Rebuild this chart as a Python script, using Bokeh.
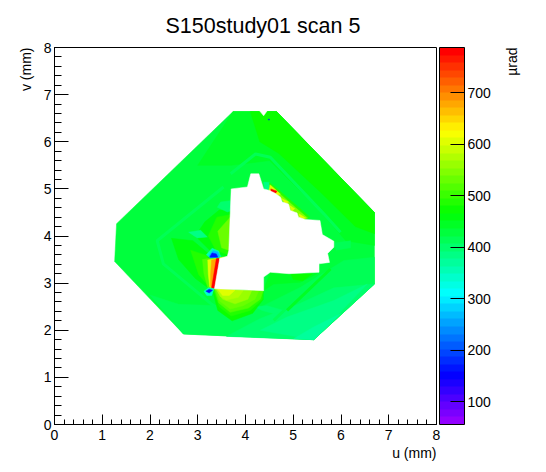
import colorsys
from math import pi
from bokeh.embed import file_html
from bokeh.resources import INLINE
from bokeh.plotting import figure
from bokeh.models import (ColorBar, ColumnDataSource, FixedTicker, Label,
                          LinearColorMapper, SingleIntervalTicker, Title)

TITLE = "S150study01 scan 5"
X_LABEL = "u (mm)"
Y_LABEL = "v (mm)"
Z_LABEL = "\u00b5rad"
Z_LOW, Z_HIGH = 56, 788
Z_TICKS = [100, 200, 300, 400, 500, 600, 700]
N_BANDS = 50

palette = []
for i in range(N_BANDS):
    hue = (280 - (i + 1) * 280 / N_BANDS) / 360
    r, g, b = colorsys.hls_to_rgb(hue, 0.5, 1.0)
    palette.append("#%02x%02x%02x" % (round(r * 255), round(g * 255), round(b * 255)))

# Measured region (outer edge)
outer_u = [3.74, 1.30, 1.26, 2.70, 5.43, 6.70, 6.70, 4.65]
outer_v = [6.64, 4.26, 3.46, 1.92, 1.80, 2.98, 4.50, 6.64]
outer_z = 430

# Broad background regions, painted first: (z, u's, v's)
background = [
    (450, [3.74, 4.65, 6.70, 6.70, 6.10, 5.50, 4.50, 3.70, 3.00],
          [6.64, 6.64, 4.50, 3.80, 3.90, 4.60, 5.60, 5.50, 5.50]),
    (470, [4.10, 4.65, 6.70, 6.70, 6.30, 5.60, 4.70, 4.30],
          [6.64, 6.64, 4.50, 4.05, 4.20, 4.90, 5.75, 6.00]),
    (418, [2.00, 2.60, 4.31, 5.15, 6.06, 6.70, 6.70, 5.43, 2.70],
          [2.75, 2.55, 2.49, 2.91, 3.48, 3.55, 2.98, 1.80, 1.92]),
    (405, [3.60, 4.31, 5.10, 5.85, 6.70, 5.43, 4.10],
          [1.87, 2.25, 2.55, 2.90, 2.98, 1.80, 1.85]),
    (390, [4.31, 4.87, 5.85, 6.55, 5.43],
          [2.00, 2.28, 2.63, 2.98, 1.80]),
    (370, [5.01, 5.43, 5.99, 5.43],
          [1.82, 2.07, 2.35, 1.80]),
    (440, [4.52, 5.50, 5.15, 4.59, 4.37],
          [3.23, 3.20, 3.02, 2.98, 2.84]),
    (475, [4.95, 5.40, 5.20, 5.00],
          [3.19, 3.20, 3.05, 3.08]),
    (395, [4.20, 4.45, 4.80, 4.60, 4.35],
          [2.50, 2.52, 2.42, 2.35, 2.42]),
    (410, [5.85, 6.20, 6.20, 5.90],
          [3.85, 3.90, 3.75, 3.70]),
]

# Thin stripes that run parallel to the outer edge
stripes = [
    (412, [3.69, 4.21, 4.52, 5.64, 5.99], [5.32, 5.74, 5.67, 4.47, 4.08]),
    (420, [3.54, 2.15, 2.28, 3.27, 3.80], [5.04, 3.90, 3.41, 2.57, 2.20]),
    (408, [5.57, 4.59], [3.16, 2.21]),
    (440, [5.78, 4.87], [3.30, 2.42]),
]

# Local features next to the hole, painted over the stripes
features = [
    (470, [3.30, 4.37, 4.37, 4.15, 3.72, 3.42],
          [2.88, 2.84, 2.65, 2.36, 2.20, 2.42]),
    (495, [3.33, 4.37, 4.35, 4.10, 3.70, 3.45],
          [2.87, 2.84, 2.65, 2.42, 2.30, 2.50]),
    (515, [3.35, 4.37, 4.31, 4.06, 3.68, 3.44],
          [2.88, 2.84, 2.66, 2.47, 2.38, 2.58]),
    (535, [3.37, 4.28, 4.20, 3.95, 3.68, 3.46],
          [2.87, 2.84, 2.66, 2.52, 2.45, 2.62]),
    (555, [3.38, 4.13, 4.05, 3.78, 3.52],
          [2.87, 2.84, 2.66, 2.56, 2.66]),
    (575, [3.40, 3.95, 3.85, 3.60, 3.47],
          [2.87, 2.84, 2.70, 2.64, 2.72]),
    (600, [3.42, 3.78, 3.66, 3.52],
          [2.87, 2.85, 2.74, 2.74]),
    (465, [3.68, 3.65, 3.30, 2.95, 3.15, 3.45],
          [4.55, 3.55, 3.65, 4.00, 4.30, 4.55]),
    (495, [3.68, 3.65, 3.38, 3.22, 3.40],
          [4.45, 3.60, 3.70, 4.00, 4.40]),
    (525, [3.68, 3.65, 3.50, 3.42],
          [4.40, 3.70, 3.75, 4.10]),
    (395, [3.68, 3.71, 3.62, 3.41, 3.48],
          [4.75, 4.54, 4.51, 4.61, 4.72]),
    (460, [2.45, 2.90, 3.25, 3.24, 2.95, 2.60],
          [3.95, 3.90, 3.60, 2.88, 3.10, 3.50]),
    (390, [2.81, 3.06, 3.20, 2.99],
          [4.08, 4.12, 3.98, 3.96]),
    (485, [2.85, 3.20, 3.24, 3.02],
          [3.70, 3.58, 2.92, 3.18]),
    (520, [3.10, 3.36, 3.35, 3.21, 3.13],
          [3.50, 3.55, 2.88, 2.90, 3.20]),
    (600, [3.21, 3.40, 3.35, 3.25, 3.22],
          [3.49, 3.53, 2.88, 2.92, 3.20]),
    (680, [3.29, 3.44, 3.35, 3.27, 3.27],
          [3.49, 3.52, 2.88, 2.93, 3.20]),
    (780, [3.39, 3.46, 3.35, 3.29],
          [3.52, 3.52, 2.88, 2.90]),
    (360, [3.18, 3.30, 3.44, 3.48, 3.27],
          [3.60, 3.74, 3.68, 3.55, 3.53]),
    (270, [3.23, 3.32, 3.42, 3.46, 3.27],
          [3.58, 3.69, 3.66, 3.56, 3.54]),
    (170, [3.25, 3.30, 3.39, 3.42],
          [3.55, 3.64, 3.62, 3.55]),
    (340, [3.13, 3.23, 3.34, 3.29, 3.19],
          [2.83, 2.90, 2.88, 2.74, 2.74]),
    (170, [3.17, 3.24, 3.31, 3.24],
          [2.83, 2.87, 2.85, 2.79]),
    (620, [3.46, 3.63, 3.63, 3.46],
          [3.54, 3.56, 3.52, 3.49]),
    (390, [4.38, 4.50, 4.50, 4.40],
          [5.14, 5.14, 4.98, 5.00]),
    (490, [4.50, 4.62, 5.10, 5.35, 5.19, 4.98, 4.73, 4.55],
          [5.13, 5.04, 4.62, 4.40, 4.33, 4.50, 4.80, 4.95]),
    (540, [4.50, 4.60, 5.05, 5.30, 5.19, 4.98, 4.73, 4.55],
          [5.08, 5.00, 4.60, 4.38, 4.33, 4.50, 4.80, 4.95]),
    (610, [4.52, 4.73, 4.66, 4.49],
          [5.08, 4.89, 4.86, 4.97]),
    (785, [4.53, 4.66, 4.63, 4.54],
          [5.00, 4.95, 4.91, 4.93]),
    (610, [4.75, 4.90, 4.84],
          [4.80, 4.72, 4.68]),
    (610, [4.92, 5.03, 4.97],
          [4.65, 4.58, 4.52]),
    (610, [5.12, 5.26, 5.15],
          [4.47, 4.38, 4.36]),
    (170, [4.48, 4.50, 4.50, 4.48],
          [6.48, 6.48, 6.46, 6.46]),
]

# Unmeasured hole in the middle and notch on the top edge
hole_u = [3.70, 4.04, 4.11, 4.28, 4.38, 4.49, 4.60, 4.73, 4.77, 4.90, 4.94, 5.08, 5.11, 5.25,
          5.56, 5.61, 5.85, 5.85, 5.72, 5.76, 5.54, 5.54, 4.91, 4.52, 4.38, 4.38, 3.35, 3.46,
          3.62, 3.65, 3.68]
hole_v = [5.00, 5.04, 5.32, 5.32, 5.00, 4.97, 4.92, 4.83, 4.72, 4.68, 4.54, 4.49, 4.40, 4.35,
          4.33, 4.03, 3.89, 3.76, 3.63, 3.44, 3.41, 3.23, 3.20, 3.23, 3.13, 2.84, 2.88, 3.52,
          3.57, 3.69, 4.47]
notch_u = [4.30, 4.38, 4.45]
notch_v = [6.65, 6.55, 6.65]

mapper = LinearColorMapper(palette=palette, low=Z_LOW, high=Z_HIGH)

p = figure(width=538, height=464, output_backend="svg", toolbar_location=None,
           x_range=(0, 8), y_range=(0, 8), frame_width=382, frame_height=377,
           min_border_left=54, min_border_right=102, min_border_top=47, min_border_bottom=40,
           title=TITLE, background_fill_color="white", border_fill_color="white")

p.title.align = "left"
p.title.offset = 111
p.title.text_font = "Liberation Sans"
p.title.text_font_size = "21.5px"
p.title.text_font_style = "normal"
p.title.text_color = "black"
p.title.standoff = 20

p.grid.visible = False
p.outline_line_color = "black"
p.outline_line_width = 1
p.outline_line_alpha = 1

for ax, major_len, minor_len in ((p.xaxis[0], 10, 5), (p.yaxis[0], 14, 7)):
    ax.ticker = SingleIntervalTicker(interval=1, num_minor_ticks=5)
    ax.major_tick_in = major_len
    ax.major_tick_out = 0
    ax.minor_tick_in = minor_len
    ax.minor_tick_out = 0
    ax.axis_line_color = "black"
    ax.major_tick_line_color = "black"
    ax.minor_tick_line_color = "black"
    ax.major_label_text_font = "Liberation Sans"
    ax.major_label_text_font_size = "14px"
    ax.major_label_text_color = "black"
p.xaxis[0].major_label_standoff = 5
p.yaxis[0].major_label_standoff = 3

p.add_layout(Title(text=X_LABEL, align="right", text_font="Liberation Sans", text_font_size="14px",
                   text_font_style="normal", text_color="black", standoff=0), "below")
p.add_layout(Title(text=Y_LABEL, align="right", text_font="Liberation Sans", text_font_size="14px",
                   text_font_style="normal", text_color="black", standoff=14), "left")

base_src = ColumnDataSource(dict(xs=[outer_u] + [r[1] for r in background],
                                 ys=[outer_v] + [r[2] for r in background],
                                 z=[outer_z] + [r[0] for r in background]))
stripe_src = ColumnDataSource(dict(xs=[s[1] for s in stripes], ys=[s[2] for s in stripes],
                                   z=[s[0] for s in stripes]))
top_src = ColumnDataSource(dict(xs=[r[1] for r in features], ys=[r[2] for r in features],
                                z=[r[0] for r in features]))
p.patches("xs", "ys", source=base_src, fill_alpha=1, line_alpha=1,
          fill_color={"field": "z", "transform": mapper},
          line_color={"field": "z", "transform": mapper}, line_width=0.5)
p.multi_line("xs", "ys", source=stripe_src, line_width=3, line_alpha=1,
             line_color={"field": "z", "transform": mapper})
p.patches("xs", "ys", source=top_src, fill_alpha=1, line_alpha=1,
          fill_color={"field": "z", "transform": mapper},
          line_color={"field": "z", "transform": mapper}, line_width=0.5)
p.patches([hole_u, notch_u], [hole_v, notch_v], fill_alpha=1, line_alpha=1,
          fill_color="white", line_color="white", line_width=0.5)

cb = ColorBar(color_mapper=mapper, width=25, height=377, padding=0, margin=0,
              location=(3, 0), ticker=FixedTicker(ticks=Z_TICKS),
              major_tick_in=14, major_tick_line_color="black",
              minor_tick_line_color=None, bar_line_color="black",
              major_label_text_font="Liberation Sans", major_label_text_font_size="14px",
              major_label_text_color="black", label_standoff=3)
p.add_layout(cb, "right")

p.add_layout(Label(x=18, y=377, x_units="screen", y_units="screen", text=Z_LABEL, angle=pi / 2,
                   text_align="right", text_baseline="middle", text_font="Liberation Sans",
                   text_font_size="14px", text_color="black"), "right")

open("out.html", "w").write(file_html(p, INLINE))
